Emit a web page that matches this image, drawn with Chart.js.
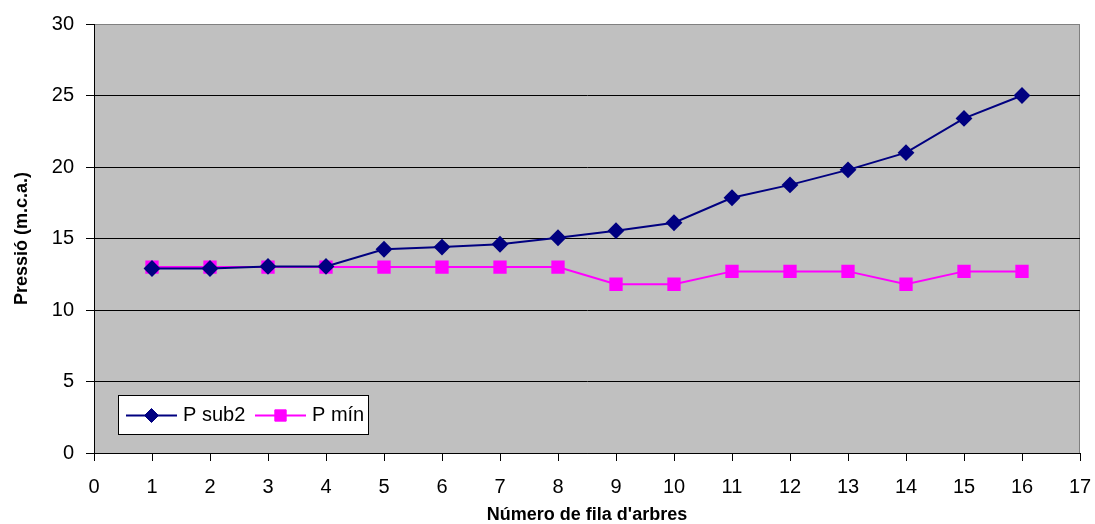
<!DOCTYPE html>
<html>
<head>
<meta charset="utf-8">
<script src="https://cdn.jsdelivr.net/npm/chart.js@4"></script>
<style>
  body { margin: 0; background: #fff; }
  #wrap { width: 1095px; height: 524px; }
</style>
</head>
<body>
<div id="wrap"><canvas id="pressio" width="1095" height="524"></canvas></div>
<script>
const fila = [1, 2, 3, 4, 5, 6, 7, 8, 9, 10, 11, 12, 13, 14, 15, 16];
const psub2 = [12.9, 12.9, 13.05, 13.05, 14.25, 14.4, 14.6, 15.05, 15.55, 16.1, 17.85, 18.75, 19.8, 21.0, 23.4, 25.0];
const pmin = [13, 13, 13, 13, 13, 13, 13, 13, 11.8, 11.8, 12.7, 12.7, 12.7, 11.8, 12.7, 12.7];

const FONT = "'Liberation Sans', Arial, sans-serif";

// gray plot background + frame
const plotBg = {
  id: "plotBg",
  beforeDraw(chart) {
    const { ctx, chartArea: a } = chart;
    ctx.save();
    ctx.fillStyle = "#C0C0C0";
    ctx.fillRect(a.left, a.top, a.right - a.left, a.bottom - a.top);
    ctx.strokeStyle = "#808080";
    ctx.lineWidth = 1;
    ctx.strokeRect(a.left + 0.5, a.top + 0.5, a.right - a.left - 1, a.bottom - a.top);
    ctx.restore();
  },
};

// legend box inside the plot, bottom left
const boxLegend = {
  id: "boxLegend",
  afterDraw(chart) {
    const { ctx } = chart;
    const x = 118, y = 395, w = 250, h = 39;
    ctx.save();
    ctx.fillStyle = "#fff";
    ctx.fillRect(x, y, w, h);
    ctx.strokeStyle = "#000";
    ctx.lineWidth = 1;
    ctx.strokeRect(x + 0.5, y + 0.5, w, h);
    ctx.font = "20px " + FONT;
    ctx.textBaseline = "middle";
    const cy = y + h / 2 + 1;
    const items = [
      { x0: 126, x1: 177, tx: 183 },
      { x0: 255, x1: 306, tx: 312 },
    ];
    chart.data.datasets.forEach((ds, i) => {
      const it = items[i];
      ctx.strokeStyle = ds.borderColor;
      ctx.lineWidth = 2;
      ctx.beginPath();
      ctx.moveTo(it.x0, cy);
      ctx.lineTo(it.x1, cy);
      ctx.stroke();
      ctx.fillStyle = ds.pointBackgroundColor;
      ctx.strokeStyle = ds.pointBorderColor;
      ctx.lineWidth = 1;
      Chart.helpers.drawPoint(ctx, { pointStyle: ds.pointStyle, radius: ds.pointRadius, borderWidth: 1 }, (it.x0 + it.x1) / 2, cy);
      ctx.fillStyle = "#000";
      ctx.fillText(ds.label, it.tx, cy);
    });
    ctx.restore();
  },
};

new Chart(document.getElementById("pressio"), {
  type: "line",
  data: {
    datasets: [
      {
        label: "P sub2",
        data: fila.map((f, i) => ({ x: f, y: psub2[i] })),
        borderColor: "#000080",
        backgroundColor: "#000080",
        pointBackgroundColor: "#000080",
        pointBorderColor: "#000080",
        pointStyle: "rectRot",
        pointRadius: 7,
        borderWidth: 2,
        tension: 0,
      },
      {
        label: "P mín",
        data: fila.map((f, i) => ({ x: f, y: pmin[i] })),
        borderColor: "#FF00FF",
        backgroundColor: "#FF00FF",
        pointBackgroundColor: "#FF00FF",
        pointBorderColor: "#FF00FF",
        pointStyle: "rect",
        pointRadius: 8,
        borderWidth: 2,
        tension: 0,
      },
    ],
  },
  options: {
    responsive: false,
    animation: false,
    layout: { padding: { top: 23, right: 15, left: 0, bottom: 0 } },
    plugins: {
      legend: { display: false },
      tooltip: { enabled: false },
    },
    scales: {
      x: {
        type: "linear",
        min: 0,
        max: 17,
        afterFit(s) { s.height = 71; s.paddingLeft = 0; s.paddingRight = 0; },
        ticks: { stepSize: 1, color: "#000", font: { family: FONT, size: 20 }, padding: 14, maxRotation: 0 },
        grid: { drawOnChartArea: false, tickLength: 8, color: "#000", tickColor: "#000" },
        border: { color: "#000", width: 1 },
        title: {
          display: true,
          text: "Número de fila d'arbres",
          color: "#000",
          font: { family: FONT, size: 18, weight: "bold" },
          padding: { top: 0, bottom: -2 },
        },
      },
      y: {
        min: 0,
        max: 30,
        afterFit(s) { s.width = 94; },
        ticks: { stepSize: 5, color: "#000", font: { family: FONT, size: 20 }, padding: 12 },
        grid: {
          tickLength: 8,
          tickColor: "#000",
          color: (c) => (c.tick && c.tick.value === 30 ? "rgba(0,0,0,0)" : "#000"),
        },
        border: { color: "#000", width: 1 },
        title: {
          display: true,
          text: "Pressió (m.c.a.)",
          color: "#000",
          font: { family: FONT, size: 18, weight: "bold" },
          padding: { top: 11, bottom: 0 },
        },
      },
    },
  },
  plugins: [plotBg, boxLegend],
});
</script>
</body>
</html>
